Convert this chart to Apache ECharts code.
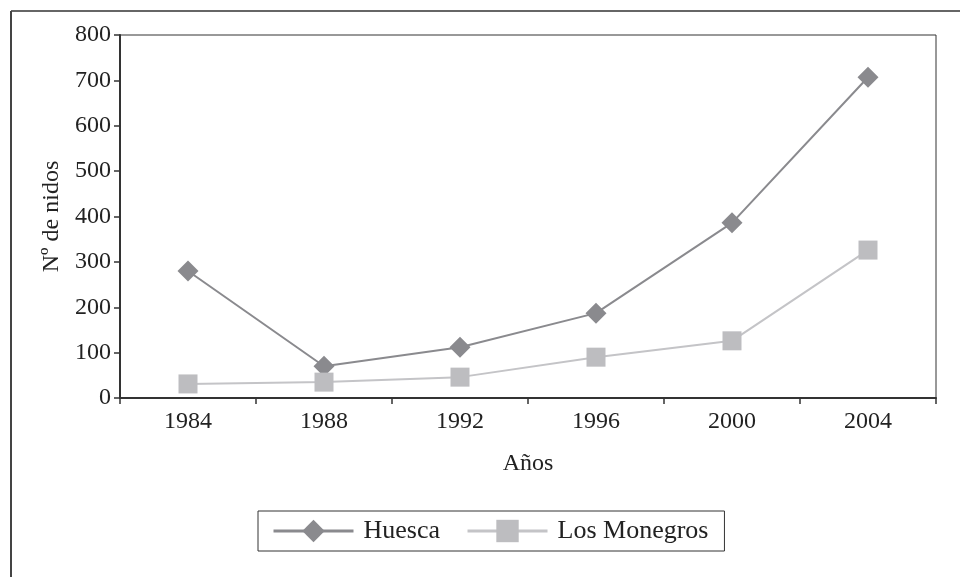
<!DOCTYPE html>
<html>
<head>
<meta charset="utf-8">
<script src="https://cdn.jsdelivr.net/npm/echarts@6/dist/echarts.min.js"></script>
<style>
  html, body { margin: 0; padding: 0; background: #fff; }
  #chart { width: 960px; height: 577px; }
</style>
</head>
<body>
<div id="chart"></div>
<script>
const years = ['1984', '1988', '1992', '1996', '2000', '2004']
const huesca = [280, 70, 112, 187, 386, 707]
const monegros = [31, 35, 46, 90, 126, 326]

const font = 'Liberation Serif'
const chart = echarts.init(document.getElementById('chart'))

chart.setOption({
  animation: false,
  backgroundColor: '#fff',
  textStyle: { fontFamily: font },
  graphic: [
    { type: 'line', shape: { x1: 11, y1: 11, x2: 960, y2: 11 }, style: { stroke: '#666', lineWidth: 2 } },
    { type: 'line', shape: { x1: 11, y1: 11, x2: 11, y2: 577 }, style: { stroke: '#444', lineWidth: 2 } }
  ],
  grid: {
    left: 120,
    right: 24,
    top: 35,
    bottom: 179,
    show: true,
    borderColor: '#333',
    borderWidth: 1
  },
  xAxis: {
    type: 'category',
    data: years,
    boundaryGap: true,
    name: 'Años',
    nameLocation: 'middle',
    nameGap: 54,
    nameTextStyle: { fontSize: 24, color: '#222', fontFamily: font },
    axisLine: { lineStyle: { color: '#333', width: 2 } },
    axisTick: { show: true, length: 6, lineStyle: { color: '#333', width: 1.5 } },
    axisLabel: { fontSize: 24, color: '#222', margin: 12, fontFamily: font }
  },
  yAxis: {
    type: 'value',
    min: 0,
    max: 800,
    interval: 100,
    name: 'Nº de nidos',
    nameLocation: 'middle',
    nameGap: 54,
    nameTextStyle: { fontSize: 24, color: '#222', fontFamily: font },
    splitLine: { show: false },
    axisLine: { show: true, lineStyle: { color: '#333', width: 2 } },
    axisTick: { show: true, length: 6, lineStyle: { color: '#333', width: 1.5 } },
    axisLabel: { fontSize: 24, color: '#222', margin: 9, fontFamily: font }
  },
  legend: {
    left: 258,
    top: 511,
    padding: [7, 16, 7, 14],
    borderColor: '#333',
    borderWidth: 1,
    itemWidth: 80,
    itemHeight: 28,
    itemGap: 26,
    lineStyle: { width: 3 },
    textStyle: { fontSize: 26, color: '#222', fontFamily: font, padding: [0, 0, 0, 5] },
    data: ['Huesca', 'Los Monegros']
  },
  series: [
    {
      name: 'Huesca',
      type: 'line',
      data: huesca,
      symbol: 'diamond',
      symbolSize: 21,
      lineStyle: { color: '#8a8a8e', width: 2 },
      itemStyle: { color: '#8a8a8e' }
    },
    {
      name: 'Los Monegros',
      type: 'line',
      data: monegros,
      symbol: 'rect',
      symbolSize: 19,
      lineStyle: { color: '#c4c4c7', width: 2 },
      itemStyle: { color: '#bdbdc0' }
    }
  ]
})
</script>
</body>
</html>
